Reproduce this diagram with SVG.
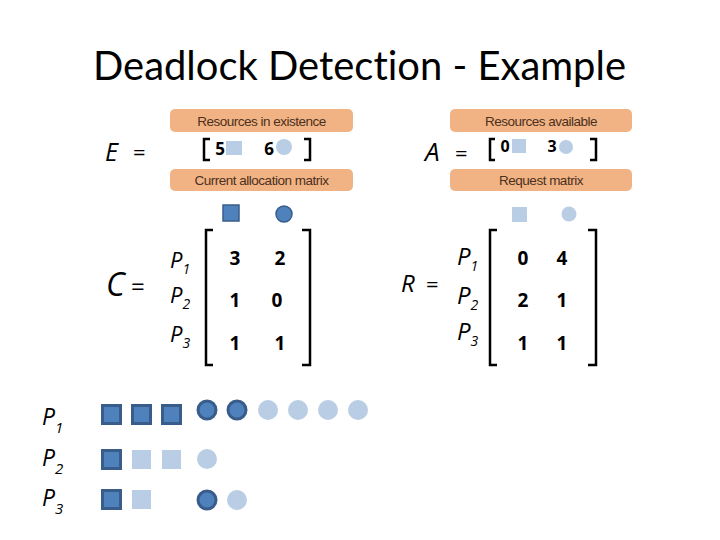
<svg xmlns="http://www.w3.org/2000/svg" width="720" height="540" viewBox="0 0 720 540">
<style>
.title{font-family:Lato,"Open Sans",sans-serif;font-size:40px;fill:#000;font-variant-ligatures:none}
.lbl{font-family:"Open Sans","Liberation Sans",sans-serif;font-style:italic;fill:#000}
.eq{font-family:"Open Sans","Liberation Sans",sans-serif;fill:#000}
.num{font-family:"Open Sans","Liberation Sans",sans-serif;font-weight:bold;font-size:19px;fill:#000;text-anchor:middle}
.box{fill:#F2B384}
.boxt{font-family:"Liberation Sans",Arial,sans-serif;font-size:13.5px;fill:#4A3020;text-anchor:middle;letter-spacing:-0.5px}
.br{fill:none;stroke:#000;stroke-width:2.5}
.dk{fill:#4F81BD;stroke:#385D8A;stroke-width:3}
.dk0{fill:#4F81BD;stroke:#385D8A;stroke-width:1.5}
.lt{fill:#B9CDE5}
</style>
<text class="title" x="93" y="80" textLength="533" lengthAdjust="spacingAndGlyphs">Deadlock Detection - Example</text>

<g id="E">
<rect class="box" x="170" y="109" width="183" height="23" rx="5"/>
<text class="boxt" x="261.5" y="125.5">Resources in existence</text>
<text class="lbl" x="105" y="161" font-size="25">E</text>
<text class="eq" x="133" y="160" font-size="22">=</text>
<path class="br" d="M210,139 H204 V160 H210"/>
<text class="num" x="220" y="155" style="font-size:17px">5</text>
<rect class="lt" x="226" y="141" width="16" height="14"/>
<text class="num" x="269" y="155" style="font-size:17px">6</text>
<circle class="lt" cx="284" cy="147" r="8"/>
<path class="br" d="M304,139 H310 V160 H304"/>
</g>

<g id="A">
<rect class="box" x="450" y="109" width="182" height="23" rx="5"/>
<text class="boxt" x="541" y="125.5">Resources available</text>
<text class="lbl" x="425" y="161" font-size="26">A</text>
<text class="eq" x="455" y="161" font-size="22">=</text>
<path class="br" d="M495,139 H490 V160 H495"/>
<text class="num" x="505" y="152" style="font-size:16px">0</text>
<rect class="lt" x="512" y="139" width="14" height="14"/>
<text class="num" x="552" y="152" style="font-size:16px">3</text>
<circle class="lt" cx="566" cy="147" r="7"/>
<path class="br" d="M590,139 H596 V160 H590"/>
</g>

<g id="C">
<rect class="box" x="170" y="169" width="183" height="22" rx="5"/>
<text class="boxt" x="261.5" y="185">Current allocation matrix</text>
<rect class="dk0" x="223" y="205" width="16" height="16"/>
<circle class="dk0" cx="284" cy="214" r="8"/>
<text class="lbl" x="106" y="296" font-size="32">C</text>
<text class="eq" x="131" y="295" font-size="24">=</text>
<text class="lbl" x="170" y="268" font-size="22">P<tspan font-size="14" dy="6">1</tspan></text>
<text class="lbl" x="170" y="303" font-size="22">P<tspan font-size="14" dy="6">2</tspan></text>
<text class="lbl" x="170" y="342" font-size="22">P<tspan font-size="14" dy="6">3</tspan></text>
<path class="br" d="M213,230 H206 V365 H213"/>
<path class="br" d="M302,230 H310 V365 H302"/>
<text class="num" x="235" y="265">3</text>
<text class="num" x="280" y="265">2</text>
<text class="num" x="235" y="307">1</text>
<text class="num" x="277" y="307">0</text>
<text class="num" x="235" y="350">1</text>
<text class="num" x="280" y="350">1</text>
</g>

<g id="R">
<rect class="box" x="450" y="169" width="182" height="22" rx="5"/>
<text class="boxt" x="541" y="185">Request matrix</text>
<rect class="lt" x="512" y="207" width="15" height="15"/>
<circle class="lt" cx="569" cy="214" r="7.5"/>
<text class="lbl" x="401" y="292" font-size="24">R</text>
<text class="eq" x="426" y="292" font-size="22">=</text>
<text class="lbl" x="457" y="265" font-size="24">P<tspan font-size="14" dy="6">1</tspan></text>
<text class="lbl" x="457" y="304" font-size="24">P<tspan font-size="14" dy="6">2</tspan></text>
<text class="lbl" x="457" y="340" font-size="24">P<tspan font-size="14" dy="6">3</tspan></text>
<path class="br" d="M497,230 H490 V365 H497"/>
<path class="br" d="M588,230 H596 V365 H588"/>
<text class="num" x="523" y="265">0</text>
<text class="num" x="562" y="265">4</text>
<text class="num" x="523" y="307">2</text>
<text class="num" x="562" y="307">1</text>
<text class="num" x="523" y="350">1</text>
<text class="num" x="562" y="350">1</text>
</g>

<g id="P1">
<text class="lbl" x="42" y="425" font-size="23">P<tspan font-size="15" dy="8">1</tspan></text>
<rect class="dk" x="102.5" y="405.5" width="18" height="18"/>
<rect class="dk" x="132.5" y="405.5" width="18" height="18"/>
<rect class="dk" x="162.5" y="405.5" width="18" height="18"/>
<circle class="dk" cx="207" cy="410" r="9"/>
<circle class="dk" cx="237" cy="410" r="9"/>
<circle class="lt" cx="268" cy="410" r="10"/>
<circle class="lt" cx="298" cy="410" r="10"/>
<circle class="lt" cx="328" cy="410" r="10"/>
<circle class="lt" cx="358" cy="410" r="10"/>
</g>
<g id="P2">
<text class="lbl" x="42" y="466" font-size="23">P<tspan font-size="15" dy="8">2</tspan></text>
<rect class="dk" x="102.5" y="450.5" width="18" height="18"/>
<rect class="lt" x="132" y="450" width="19" height="19"/>
<rect class="lt" x="162" y="450" width="19" height="19"/>
<circle class="lt" cx="207" cy="459" r="10"/>
</g>
<g id="P3">
<text class="lbl" x="42" y="506" font-size="23">P<tspan font-size="15" dy="8">3</tspan></text>
<rect class="dk" x="102.5" y="490.5" width="18" height="18"/>
<rect class="lt" x="132" y="490" width="19" height="19"/>
<circle class="dk" cx="207" cy="500" r="9"/>
<circle class="lt" cx="237" cy="500" r="10"/>
</g>
<g id="connectors"/>
</svg>
